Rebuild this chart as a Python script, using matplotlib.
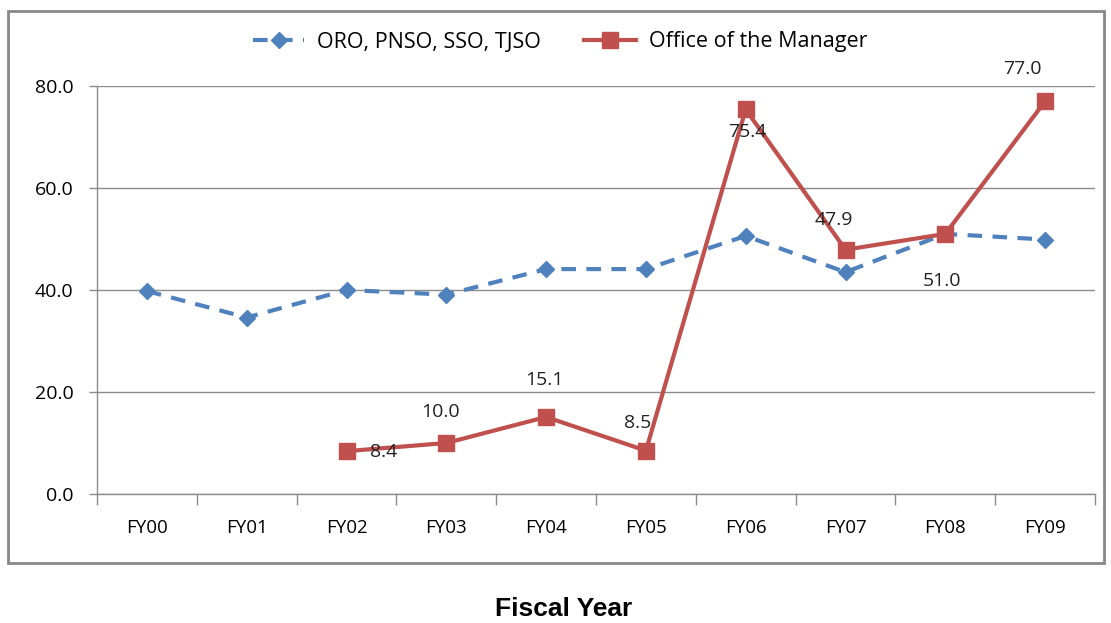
import matplotlib.pyplot as plt
from matplotlib.patches import Rectangle

# data
years = ["FY00", "FY01", "FY02", "FY03", "FY04", "FY05", "FY06", "FY07", "FY08", "FY09"]
field_offices = [39.8, 34.6, 40.0, 39.1, 44.1, 44.1, 50.6, 43.5, 51.0, 49.9]
manager_years = ["FY02", "FY03", "FY04", "FY05", "FY06", "FY07", "FY08", "FY09"]
manager = [8.4, 10.0, 15.1, 8.5, 75.4, 47.9, 51.0, 77.0]

# label offsets in pixels (dx, dy) for the manager data labels
label_offsets = [(37, -1), (-6, 31), (-2, 37), (-8, 28), (2, -23), (-12, 30), (-3, -47), (-23, 32)]

blue = "#4F81BD"
red = "#C0504D"
grid_gray = "#8C8C8C"

plt.rcParams['font.family'] = ['Open Sans', 'DejaVu Sans']

fig = plt.figure(figsize=(11.11, 6.23), dpi=100)
ax = fig.add_axes([97 / 1111, 1 - 494 / 623, 998 / 1111, 408 / 623])

# outer chart border
fig.patches.append(Rectangle((8 / 1111, 1 - 563 / 623), 1096 / 1111, 552 / 623,
                             transform=fig.transFigure, fill=False,
                             edgecolor="#878787", linewidth=2))

x_all = list(range(len(years)))
x_mgr = [years.index(y) for y in manager_years]

ax.plot(x_all, field_offices, color=blue, linestyle=(0, (3.5, 2.5)), linewidth=3,
        marker='D', markersize=8.5, label="ORO, PNSO, SSO, TJSO")
ax.plot(x_mgr, manager, color=red, linewidth=3, marker='s', markersize=12,
        label="Office of the Manager")

for xi, val, (dx, dy) in zip(x_mgr, manager, label_offsets):
    ax.annotate(f"{val:.1f}", (xi, val), xytext=(dx, dy), textcoords='offset pixels',
                ha='center', va='center', fontsize=14, color="#222222")

ax.set_xlim(-0.5, len(years) - 0.5)
ax.set_ylim(0, 80)
ax.set_yticks([0, 20, 40, 60, 80])
ax.set_yticklabels([f"{v:.1f}" for v in [0, 20, 40, 60, 80]], fontsize=14)
ax.set_xticks(x_all)
ax.set_xticklabels(years, fontsize=13.5)
ax.set_xticks([i - 0.5 for i in range(len(years) + 1)], minor=True)
ax.tick_params(axis='x', which='major', length=0, pad=18)
ax.tick_params(axis='x', which='minor', length=8, color=grid_gray, width=1)
ax.tick_params(axis='y', length=6, color=grid_gray, width=1, pad=11)

ax.grid(axis='y', color=grid_gray, linewidth=1)
ax.set_axisbelow(True)
for side in ['top', 'right']:
    ax.spines[side].set_visible(False)
for side in ['left', 'bottom']:
    ax.spines[side].set_color(grid_gray)
    ax.spines[side].set_linewidth(1)

fig.legend(loc='center', bbox_to_anchor=(560 / 1111, 1 - 42 / 623), ncol=2,
           frameon=False, fontsize=15.5, handlelength=2.4, handletextpad=0.6,
           columnspacing=2.0)

fig.text(564 / 1111, 1 - 609 / 623, "Fiscal Year", ha='center', va='center',
         fontsize=19, fontweight='bold', family=['Liberation Sans', 'DejaVu Sans'])

fig.savefig("out.png", dpi=100)
